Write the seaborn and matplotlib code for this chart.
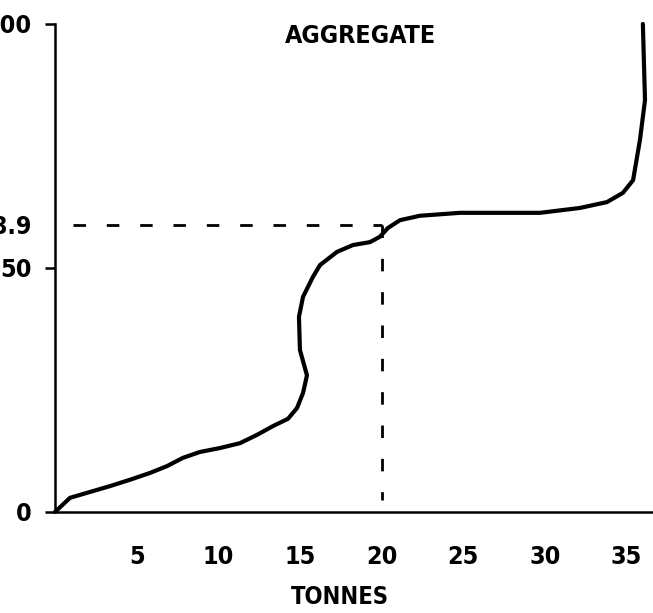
import matplotlib
matplotlib.use('Agg')
import matplotlib.pyplot as plt
import seaborn as sns

# cumulative curve
tonnes = [0, 0.92, 2.14, 3.37, 4.59, 5.82, 6.86, 7.84, 8.88, 10.1, 11.33, 12.37, 13.35,
          14.27, 14.82, 15.19, 15.43, 15.0, 14.94, 15.19, 15.8, 16.23, 17.27, 18.25, 19.29,
          19.9, 20.39, 21.13, 22.35, 24.8, 28.05, 29.7, 32.15, 33.8, 34.78, 35.4, 35.82,
          36.13, 36.0]
percent = [0, 2.9, 4.1, 5.3, 6.6, 8.0, 9.4, 11.1, 12.3, 13.1, 14.1, 15.8, 17.6,
           19.1, 21.3, 24.4, 28.0, 33.2, 40.0, 44.1, 48.2, 50.6, 53.3, 54.7, 55.3,
           56.4, 58.2, 59.8, 60.7, 61.3, 61.3, 61.3, 62.3, 63.5, 65.4, 68.0, 76.2,
           84.4, 100]

ref_x = 20
ref_y = 58.9
x_ticks = [5, 10, 15, 20, 25, 30, 35]
y_ticks = [0, 50, 58.9, 100]
y_labels = ['0', '50', '58.9', '100']

sns.set_style('white')
plt.rcParams['font.family'] = ['DejaVu Sans']
plt.rcParams['font.stretch'] = 'condensed'
plt.rcParams['font.weight'] = 'bold'
plt.rcParams['text.color'] = 'black'
plt.rcParams['xtick.color'] = 'black'
plt.rcParams['ytick.color'] = 'black'
plt.rcParams['axes.labelcolor'] = 'black'

fig = plt.figure(figsize=(6.53, 6.13), dpi=100)
ax = fig.add_axes([0.0842, 0.1648, 0.9158, 0.7961])

sns.lineplot(x=tonnes, y=percent, sort=False, estimator=None, color='black',
             linewidth=3, ax=ax, clip_on=False)

# dashed guide lines
ax.plot([1.1, ref_x], [ref_y, ref_y], color='black', linewidth=2, dashes=(4.5, 7.5))
ax.plot([ref_x, ref_x], [ref_y, 2.5], color='black', linewidth=2, dashes=(4.5, 7.5))

ax.set_xlim(0, 36.62)
ax.set_ylim(0, 100)
sns.despine(ax=ax)
for s in ['left', 'bottom']:
    ax.spines[s].set_linewidth(1.8)
    ax.spines[s].set_color('black')

ax.set_xticks(x_ticks)
ax.set_xticklabels([str(t) for t in x_ticks])
ax.set_yticks(y_ticks)
ax.set_yticklabels(y_labels)
ax.tick_params(axis='x', length=0, pad=24, labelsize=18)
ax.tick_params(axis='y', length=7, width=1.8, pad=10, labelsize=18, left=True)
ax.yaxis.get_major_ticks()[2].tick1line.set_visible(False)

ax.set_xlabel('TONNES', fontsize=17, fontweight='bold')
ax.xaxis.set_label_coords(0.477, -0.150)
ax.text(18.7, 97.5, 'AGGREGATE', fontsize=18, ha='center', va='center')

fig.savefig('out.png', dpi=100)
